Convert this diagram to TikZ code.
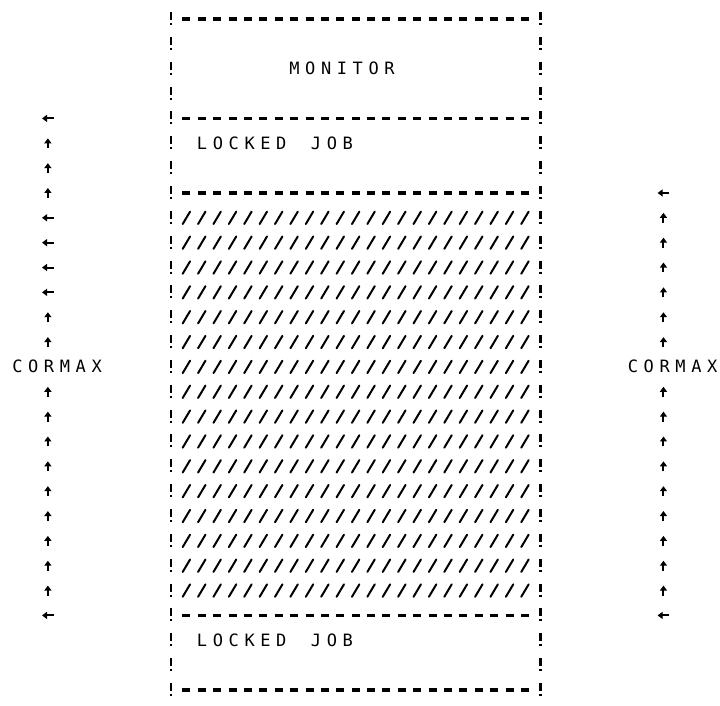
\documentclass[tikz,border=0pt]{standalone}
\usepackage{fontspec}
\newfontfamily\lpt[LetterSpace=33,WordSpace=1.55]{DejaVu Sans Mono}
\usetikzlibrary{arrows.meta}

\begin{document}
\begin{tikzpicture}[
    x=15.39pt, y=-24.85pt,
    bar/.style={line width=2.5pt, dash pattern=on 8pt off 3pt on 2pt off 11.85pt},
    rule/.style={line width=3.3pt, dash pattern=on 8pt off 7.39pt},
    hatch/.style={line width=2pt, line cap=round},
    lbl/.style={anchor=base west, inner sep=0pt, font=\lpt\fontsize{17}{17}\selectfont},
    spanmark/.style={line width=2pt, -{Triangle[length=5pt,width=7pt]}}
]
\useasboundingbox (-11.111,-0.765) rectangle (35.673,27.606);

% memory box
\draw[bar] (0,-0.282) -- (0,27.3);
\draw[bar] (24,-0.282) -- (24,27.3);
\foreach \r in {0,4,7,24,27}
    \draw[rule] (0.74,\r) -- (23.26,\r);

\node[lbl] (monitor) at (7.675,2.241) {MONITOR};
\node[lbl] (lockhi) at (1.675,5.241) {LOCKED JOB};
\node[lbl] (locklo) at (1.675,25.241) {LOCKED JOB};

% free core
\foreach \r in {8,...,23}
    \foreach \c in {1,...,23}
        \draw[hatch] (\c-0.24,\r+0.25) -- (\c+0.24,\r-0.25);

% cormax spans
\node[lbl] (cmleft) at (-10.325,14.241) {CORMAX};
\node[lbl] (cmright) at (29.675,14.241) {CORMAX};

\foreach \r in {4,8,9,10,11,24}
    \draw[spanmark] (-7.62,\r) -- (-8.38,\r);
\foreach \r in {5,6,7,12,13,15,16,...,23}
    \draw[spanmark] (-8,\r+0.2) -- (-8,\r-0.2);
\foreach \r in {7,24}
    \draw[spanmark] (32.38,\r) -- (31.62,\r);
\foreach \r in {8,...,13,15,16,...,23}
    \draw[spanmark] (32,\r+0.2) -- (32,\r-0.2);

\end{tikzpicture}
\end{document}
